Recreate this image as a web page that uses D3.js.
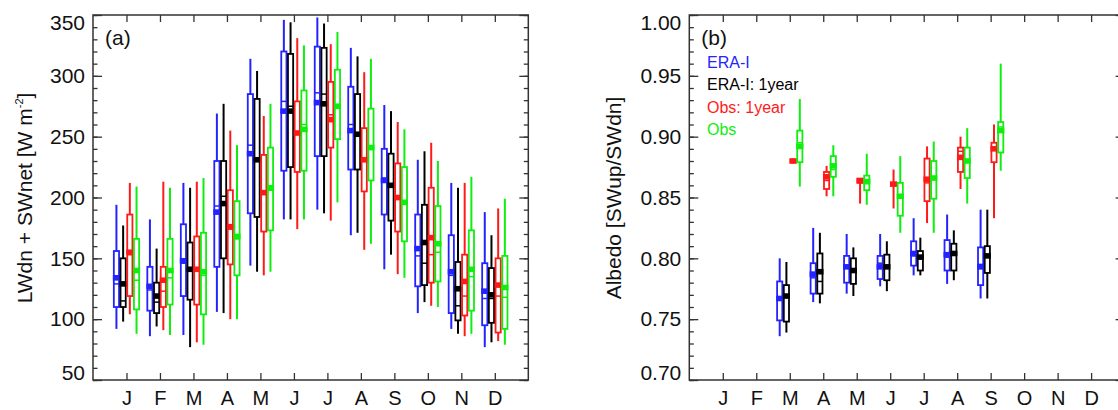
<!DOCTYPE html>
<html>
<head>
<meta charset="utf-8">
<script src="https://cdn.jsdelivr.net/npm/d3@7"></script>
<style>
  body { margin: 0; background: #fff; }
  text { font-family: "Liberation Sans", Arial, Helvetica, sans-serif; }
</style>
</head>
<body>
<div id="chart"></div>
<script>
/*
  Data: one row per month, [min, q1, median, q3, max, mean]
*/
const months = ["J", "F", "M", "A", "M", "J", "J", "A", "S", "O", "N", "D"];
const seriesNames = ["ERA-I", "ERA-I: 1year", "Obs: 1year", "Obs"];
const palette = ["#2323ff", "#000000", "#ff1a1a", "#10ee10"];

// panel (a) LWdn + SWnet [W m-2]
const eraA = [
  [92, 110, 129, 156, 194, 134], [86, 107, 124, 143, 182, 127], [87, 119, 146, 178, 212, 148],
  [106, 143, 193, 230, 269, 188], [144, 187, 243, 285, 314, 236], [182, 222, 279, 320, 346, 271],
  [190, 234, 286, 324, 348, 278], [169, 223, 260, 291, 323, 255], [141, 186, 216, 240, 276, 214],
  [105, 127, 152, 186, 231, 158], [92, 105, 136, 169, 212, 139], [77, 95, 117, 146, 188, 123]
];
const era1yA = [
  [98, 110, 115, 150, 177, 129], [94, 105, 114, 130, 158, 119], [77, 116, 141, 163, 208, 141],
  [105, 150, 201, 230, 277, 195], [139, 184, 231, 281, 304, 231], [182, 225, 275, 318, 344, 271],
  [187, 234, 285, 323, 343, 277], [171, 223, 252, 285, 316, 252], [153, 181, 210, 236, 271, 210],
  [114, 128, 146, 194, 238, 163], [88, 99, 111, 147, 208, 125], [81, 97, 117, 142, 169, 120]
];
const obs1yA = [
  [104, 119, 153, 186, 212, 155], [91, 110, 123, 143, 213, 132], [81, 112, 141, 168, 213, 141],
  [100, 145, 174, 206, 255, 176], [136, 172, 204, 235, 267, 204], [174, 221, 252, 279, 331, 253],
  [181, 241, 268, 295, 326, 264], [157, 205, 231, 257, 303, 231], [137, 172, 200, 228, 262, 200],
  [111, 130, 153, 208, 245, 167], [86, 103, 119, 153, 212, 131], [82, 89, 119, 150, 191, 128]
];
const obsA = [
  [88, 108, 132, 166, 209, 140], [87, 112, 134, 166, 208, 140], [79, 104, 136, 171, 216, 139],
  [100, 136, 166, 197, 243, 168], [139, 173, 206, 241, 277, 208], [182, 222, 260, 288, 325, 256],
  [196, 248, 275, 305, 336, 275], [162, 214, 241, 273, 314, 241], [134, 164, 196, 225, 256, 196],
  [110, 131, 155, 193, 230, 162], [88, 107, 135, 173, 217, 141], [79, 92, 118, 152, 199, 126]
];

// panel (b) Albedo, no data in J, F, O, N, D
const eraB = [
  null, null,
  [0.736, 0.749, 0.768, 0.781, 0.800, 0.767], [0.764, 0.771, 0.784, 0.796, 0.825, 0.787],
  [0.771, 0.780, 0.792, 0.802, 0.820, 0.793], [0.777, 0.783, 0.796, 0.802, 0.820, 0.793],
  [0.786, 0.794, 0.802, 0.814, 0.833, 0.804], [0.779, 0.790, 0.801, 0.815, 0.836, 0.803],
  [0.767, 0.778, 0.795, 0.809, 0.840, 0.793],
  null, null, null
];
const era1yB = [
  null, null,
  [0.739, 0.748, 0.770, 0.778, 0.797, 0.769], [0.763, 0.771, 0.781, 0.804, 0.821, 0.789],
  [0.769, 0.779, 0.790, 0.800, 0.809, 0.790], [0.773, 0.782, 0.793, 0.803, 0.814, 0.793],
  [0.786, 0.790, 0.802, 0.806, 0.817, 0.801], [0.782, 0.790, 0.803, 0.812, 0.823, 0.804],
  [0.767, 0.788, 0.802, 0.810, 0.840, 0.802],
  null, null, null
];
const obs1yB = [
  null, null,
  [0.878, 0.879, 0.880, 0.881, 0.882, 0.880], [0.851, 0.857, 0.864, 0.871, 0.876, 0.867],
  [0.845, 0.862, 0.864, 0.865, 0.866, 0.864], [0.841, 0.860, 0.861, 0.862, 0.873, 0.861],
  [0.829, 0.847, 0.862, 0.882, 0.892, 0.865], [0.857, 0.871, 0.888, 0.891, 0.900, 0.883],
  [0.833, 0.879, 0.891, 0.895, 0.910, 0.890],
  null, null, null
];
const obsB = [
  null, null,
  [0.859, 0.879, 0.895, 0.905, 0.931, 0.892], [0.851, 0.867, 0.873, 0.884, 0.893, 0.876],
  [0.844, 0.856, 0.864, 0.868, 0.886, 0.863], [0.821, 0.835, 0.852, 0.862, 0.884, 0.851],
  [0.821, 0.849, 0.867, 0.880, 0.896, 0.866], [0.845, 0.866, 0.879, 0.891, 0.907, 0.880],
  [0.872, 0.887, 0.908, 0.912, 0.960, 0.905],
  null, null, null
];

/*
  Svg and panel geometry
*/
const width = 1118, height = 410;
const top_ = 15, bottom_ = 380;
const axisColor = "#333";

var svg = d3.select("#chart").append("svg")
  .attr("width", width)
  .attr("height", height);

function drawPanel(p) {
  var x = d3.scaleLinear().domain([0, 13]).range([p.left, p.right]);
  var y = d3.scaleLinear().domain(p.yDomain).range([bottom_, top_]);
  var g = svg.append("g");

  // boxes
  var step = 6.7, bw = 5.2;
  p.series.forEach(function(rows, s) {
    var col = palette[s];
    rows.forEach(function(r, m) {
      if (!r) return;
      var cx = x(m + 1) + (s - 1.5) * step;
      g.append("line")
        .attr("x1", cx).attr("x2", cx)
        .attr("y1", y(r[0])).attr("y2", y(r[4]))
        .attr("stroke", col).attr("stroke-width", 2);
      g.append("rect")
        .attr("x", cx - bw / 2).attr("width", bw)
        .attr("y", y(r[3])).attr("height", Math.max(y(r[1]) - y(r[3]), 1))
        .attr("fill", "white").attr("stroke", col).attr("stroke-width", 1.8);
      g.append("line")
        .attr("x1", cx - bw / 2).attr("x2", cx + bw / 2)
        .attr("y1", y(r[2])).attr("y2", y(r[2]))
        .attr("stroke", col).attr("stroke-width", 1.5);
      g.append("rect")
        .attr("x", cx - 3.6).attr("width", 7.2)
        .attr("y", y(r[5]) - 2.8).attr("height", 5.6)
        .attr("fill", col);
    });
  });

  // frame
  g.append("rect")
    .attr("x", p.left).attr("y", top_)
    .attr("width", p.right - p.left).attr("height", bottom_ - top_)
    .attr("fill", "none").attr("stroke", axisColor).attr("stroke-width", 1.5);

  // y axes (major + minor, left and right)
  var yl = g.append("g").attr("transform", "translate(" + p.left + ",0)")
    .call(d3.axisLeft(y).tickValues(p.major).tickSize(-9).tickPadding(8).tickFormat(p.fmt));
  yl.selectAll(".tick text")
    .attr("font-size", "21px").attr("fill", "#111")
    .attr("y", function(d) { return d === p.major[0] ? -7.5 : (d === p.major[p.major.length - 1] ? 7.5 : 0); });
  g.append("g").attr("transform", "translate(" + p.left + ",0)")
    .call(d3.axisLeft(y).tickValues(p.minor).tickSize(-4.5).tickFormat(""));
  g.append("g").attr("transform", "translate(" + p.right + ",0)")
    .call(d3.axisRight(y).tickValues(p.major).tickSize(-9).tickFormat(""));
  g.append("g").attr("transform", "translate(" + p.right + ",0)")
    .call(d3.axisRight(y).tickValues(p.minor).tickSize(-4.5).tickFormat(""));

  // x axes
  var xb = g.append("g").attr("transform", "translate(0," + bottom_ + ")")
    .call(d3.axisBottom(x).tickValues(d3.range(1, 13)).tickSize(-7).tickPadding(11)
      .tickFormat(function(d) { return months[d - 1]; }));
  xb.selectAll(".tick text").attr("font-size", "20px").attr("fill", "#111");
  g.append("g").attr("transform", "translate(0," + top_ + ")")
    .call(d3.axisTop(x).tickValues(d3.range(1, 13)).tickSize(-7).tickFormat(""));

  g.selectAll(".domain").remove();
  g.selectAll(".tick line").attr("stroke", axisColor).attr("stroke-width", 1.3);

  // panel tag
  g.append("text")
    .attr("x", p.left + 12).attr("y", 45)
    .attr("font-size", "21px").attr("fill", "#111")
    .text(p.tag);

  // y label
  var lab = g.append("text")
    .attr("transform", "translate(" + p.labelX + "," + 198 + ") rotate(-90)")
    .attr("text-anchor", "middle")
    .attr("font-size", "21px").attr("fill", "#111");
  p.ylabel(lab);
  return g;
}

drawPanel({
  left: 93, right: 528.3, yDomain: [50, 350], tag: "(a)", labelX: 32,
  major: d3.range(50, 351, 50), minor: d3.range(50, 351, 10),
  fmt: d3.format("d"),
  series: [eraA, era1yA, obs1yA, obsA],
  ylabel: function(t) {
    t.append("tspan").text("LWdn + SWnet [W m");
    t.append("tspan").attr("font-size", "11px").attr("dy", "-9").text("-2");
    t.append("tspan").attr("dy", "9").text("]");
  }
});

var pb = drawPanel({
  left: 689.3, right: 1124.6, yDomain: [0.70, 1.00], tag: "(b)", labelX: 621,
  major: d3.range(70, 101, 5).map(function(v) { return v / 100; }),
  minor: d3.range(70, 101, 1).map(function(v) { return v / 100; }),
  fmt: d3.format(".2f"),
  series: [eraB, era1yB, obs1yB, obsB],
  ylabel: function(t) { t.text("Albedo [SWup/SWdn]"); }
});

/* legend */
pb.append("g").selectAll("text").data(seriesNames).enter().append("text")
  .attr("x", 707).attr("y", function(d, i) { return 67.5 + 22.5 * i; })
  .attr("font-size", "16px")
  .attr("fill", function(d, i) { return palette[i]; })
  .text(function(d) { return d; });
</script>
</body>
</html>
